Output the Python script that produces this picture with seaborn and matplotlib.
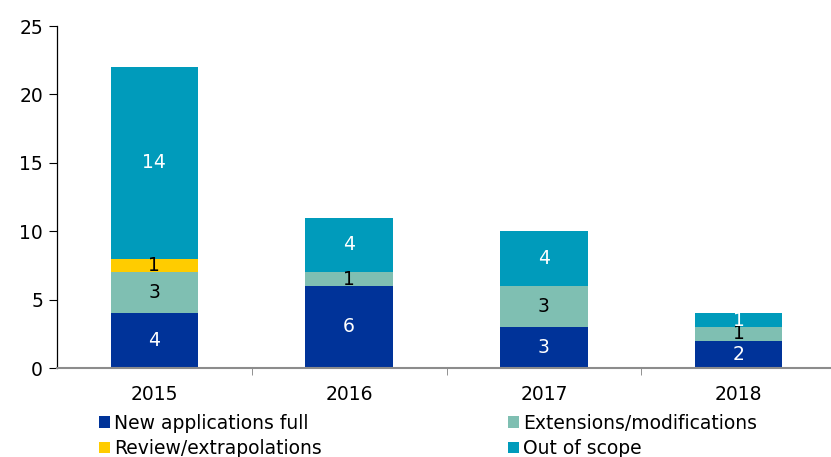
import numpy as np
import seaborn as sns
import matplotlib.pyplot as plt
from matplotlib.patches import Patch

years = ['2015', '2016', '2017', '2018']
new_apps = [4, 6, 3, 2]
extensions = [3, 1, 3, 1]
review = [1, 0, 0, 0]
out_scope = [14, 4, 4, 1]

series = ['New applications full', 'Extensions/modifications',
          'Review/extrapolations', 'Out of scope']
colors = ['#003399', '#7fbfb2', '#ffcc00', '#009bbb']
text_colors = ['white', 'black', 'black', 'white']

sns.set_style('white')
plt.rcParams['font.family'] = ['DejaVu Sans']
plt.rcParams['text.color'] = 'black'
plt.rcParams['xtick.color'] = 'black'
plt.rcParams['ytick.color'] = 'black'
fs = 13.5

fig = plt.figure(figsize=(8.31, 4.57), dpi=100)
ax = fig.add_axes([57 / 831, 1 - 368 / 457, 779 / 831, 342 / 457])

values = np.array([new_apps, extensions, review, out_scope])
cum = values.cumsum(axis=0)

# stacked bars: draw cumulative totals from the top layer down
for i in range(3, -1, -1):
    sns.barplot(x=years, y=cum[i], color=colors[i], width=0.45,
                saturation=1, linewidth=0, ax=ax)

for i in range(4):
    for j in range(len(years)):
        v = values[i, j]
        if v > 0:
            mid = cum[i, j] - v / 2
            ax.text(j, mid, str(v), ha='center', va='center',
                    fontsize=fs, color=text_colors[i])

ax.set_xlim(-0.5, 3.5)
ax.set_ylim(0, 25)
ax.set_yticks([0, 5, 10, 15, 20, 25])
ax.tick_params(axis='y', labelsize=fs, length=6, width=0.8,
               direction='out', left=True, pad=4)
ax.tick_params(axis='x', labelsize=fs, length=0, pad=12)
ax.set_xticks([0.5, 1.5, 2.5], minor=True)
ax.tick_params(axis='x', which='minor', length=5, color='#808080',
               direction='out', bottom=True)

for s in ['top', 'right']:
    ax.spines[s].set_visible(False)
ax.spines['left'].set_color('black')
ax.spines['left'].set_linewidth(0.9)
ax.spines['bottom'].set_color('#8c8c8c')
ax.spines['bottom'].set_linewidth(1.5)

handles = [Patch(facecolor=c, edgecolor='none') for c in colors]
order = [0, 2, 1, 3]
fig.legend([handles[k] for k in order], [series[k] for k in order],
           ncol=2, loc='upper left', bbox_to_anchor=(0.119, 0.095),
           frameon=False, fontsize=fs, handlelength=0.6, handleheight=0.6,
           handletextpad=0.2, columnspacing=9.95, labelspacing=0.35,
           borderaxespad=0, borderpad=0)

fig.savefig('out.png', dpi=100)
